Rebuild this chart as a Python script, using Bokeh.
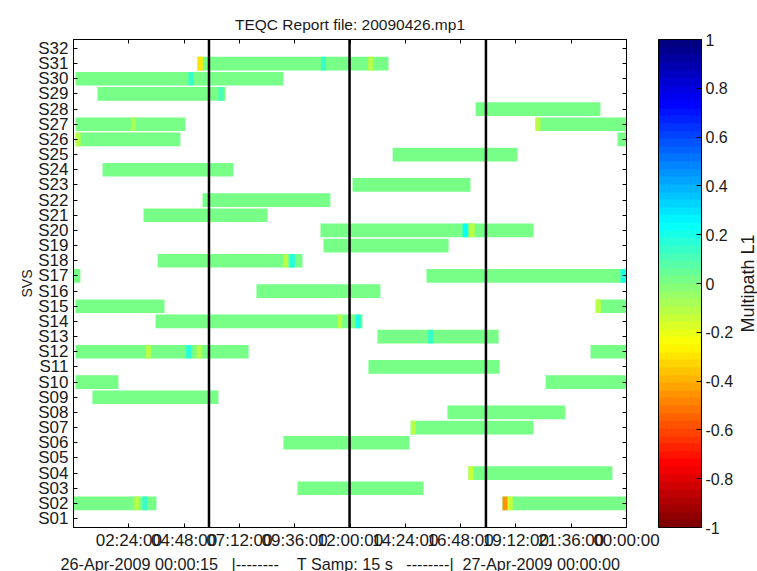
from bokeh.plotting import figure
from bokeh.layouts import row
from bokeh.models import (LinearColorMapper, ColorBar, FixedTicker, LinearAxis, Title,
                          Span, PrintfTickFormatter, Range1d, ColumnDataSource)
from bokeh.embed import file_html
from bokeh.resources import INLINE

# ---------------- data ----------------
sv_labels = ["S%02d" % i for i in range(1, 33)]
sv_ticks = list(range(1, 33))

x_tick_hours = [2.4, 4.8, 7.2, 9.6, 12.0, 14.4, 16.8, 19.2, 21.6, 24.0]
x_tick_labels = ["02:24:00", "04:48:00", "07:12:00", "09:36:00", "12:00:00",
                 "14:24:00", "16:48:00", "19:12:00", "21:36:00", "00:00:00"]

cb_ticks = [-1, -0.8, -0.6, -0.4, -0.2, 0, 0.2, 0.4, 0.6, 0.8, 1]

title_text = "TEQC Report file: 20090426.mp1"
y_title = "SVS"
cb_title = "Multipath L1"
NB = "\u00a0"
bottom_text = ("26-Apr-2009 00:00:15" + NB * 3 + "|--------" + NB * 4 + "T Samp: 15 s"
               + NB * 3 + "--------|" + NB * 2 + "27-Apr-2009 00:00:00")

# satellite passes (hours since 26-Apr-2009 00:00:15)
pass_sv = [31, 30, 29, 28, 27, 27, 26, 26, 25, 24, 23, 22, 21, 20, 19, 18, 17, 17,
           16, 15, 15, 14, 13, 12, 12, 11, 10, 10, 9, 8, 7, 6, 4, 3, 2, 2]
pass_start = [5.38, 0.09, 1.04, 17.45, 0.09, 20.05, 0.09, 23.61, 13.85, 1.26, 12.11, 5.60,
              3.04, 10.72, 10.85, 3.65, 0.00, 15.32, 7.94, 0.09, 22.66, 3.56, 13.19, 0.09,
              22.44, 12.80, 0.09, 20.49, 0.82, 16.23, 14.63, 9.11, 17.14, 9.72, 0.00, 18.62]
pass_end = [13.67, 9.11, 6.60, 22.87, 4.86, 24.0, 4.64, 24.0, 19.27, 6.94, 17.23, 11.15,
            8.42, 19.97, 16.28, 9.94, 0.30, 24.0, 13.32, 3.95, 24.0, 12.54, 18.45, 7.60,
            24.0, 18.49, 1.95, 24.0, 6.29, 21.35, 19.97, 14.58, 23.39, 15.19, 3.60, 24.0]
pass_mp1 = [0.02, 0.03, 0.02, 0.01, 0.0, 0.02, 0.01, 0.03, 0.02, 0.01, 0.01, 0.02,
            0.01, 0.02, 0.02, 0.01, 0.03, 0.02, 0.0, 0.02, 0.01, 0.02, 0.01, 0.01,
            0.02, 0.01, 0.02, 0.0, 0.01, 0.0, 0.01, 0.01, 0.02, 0.01, 0.0, 0.02]

# short epochs with notably different multipath
acc_sv = [31, 31, 31, 30, 29, 20, 20, 2, 2, 2, 2, 12, 12, 12, 17, 14, 14, 18, 18,
          13, 4, 7, 27, 26, 27, 15]
acc_hour = [5.50, 10.85, 12.90, 5.10, 6.40, 17.00, 17.30, 18.73, 18.95, 2.75, 3.10,
            3.25, 5.00, 5.45, 23.85, 12.35, 11.55, 9.20, 9.50, 15.50, 17.25, 14.75,
            2.60, 0.20, 20.16, 22.78]
acc_mp1 = [-0.3, 0.15, -0.12, 0.15, 0.12, 0.22, -0.12, -0.45, -0.15, -0.12, 0.15,
           -0.12, 0.18, -0.1, 0.2, 0.2, -0.1, -0.1, 0.18, 0.15, -0.15, -0.12,
           -0.08, -0.1, -0.1, -0.1]

marker_hours = [5.88, 11.98, 17.90]

# ---------------- style ----------------
FONT = "Liberation Sans"
TXT = "#1a1a1a"
BAR_H = 0.9
CELL_W = 0.22


def clip01(v):
    return min(max(v, 0.0), 1.0)


def jet_hex(t):
    r = clip01(1.5 - abs(4 * t - 3))
    g = clip01(1.5 - abs(4 * t - 2))
    b = clip01(1.5 - abs(4 * t - 1))
    return "#%02x%02x%02x" % (round(r * 255), round(g * 255), round(b * 255))


palette = [jet_hex(1 - i / 63) for i in range(64)]
mapper = LinearColorMapper(palette=palette, low=-1, high=1)

p = figure(frame_width=553, frame_height=488,
           x_range=Range1d(0, 24), y_range=Range1d(0.41, 32.59),
           output_backend="svg", toolbar_location=None,
           min_border_left=73, min_border_right=108,
           min_border_top=39, min_border_bottom=44,
           x_axis_type=None, y_axis_type=None)
p.xgrid.visible = False
p.ygrid.visible = False
p.outline_line_color = "black"
p.outline_line_width = 1
p.background_fill_color = "white"
p.border_fill_color = "white"

p.title.text = title_text
p.title.align = "center"
p.title.text_font = FONT
p.title.text_font_size = "15.5px"
p.title.text_font_style = "normal"
p.title.text_color = TXT
p.title.standoff = 13

passes = ColumnDataSource(dict(
    x=[(s + e) / 2 for s, e in zip(pass_start, pass_end)],
    w=[e - s for s, e in zip(pass_start, pass_end)],
    y=pass_sv, mp1=pass_mp1))
p.rect(x="x", y="y", width="w", height=BAR_H, source=passes,
       fill_color={"field": "mp1", "transform": mapper}, line_color=None)

acc = ColumnDataSource(dict(x=acc_hour, y=acc_sv, mp1=acc_mp1))
p.rect(x="x", y="y", width=CELL_W, height=BAR_H, source=acc,
       fill_color={"field": "mp1", "transform": mapper}, line_color=None)

for h in marker_hours:
    p.add_layout(Span(location=h, dimension="height", line_color="black", line_width=2.5))


def style_axis(ax, ticks, overrides, show_labels):
    ax.ticker = FixedTicker(ticks=ticks)
    ax.major_label_overrides = overrides
    ax.major_tick_in = 4
    ax.major_tick_out = 0
    ax.minor_tick_line_color = None
    ax.axis_line_color = "black"
    ax.major_tick_line_color = "black"
    ax.major_label_text_font = FONT
    ax.major_label_text_color = TXT
    ax.major_label_text_font_size = "17px"
    if not show_labels:
        ax.major_label_text_font_size = "1px"
        ax.major_label_text_alpha = 0
        ax.major_label_standoff = 0


xb = LinearAxis()
style_axis(xb, x_tick_hours, dict(zip(x_tick_hours, x_tick_labels)), True)
xb.major_label_standoff = 3
p.add_layout(xb, "below")

yl = LinearAxis()
style_axis(yl, sv_ticks, dict(zip(sv_ticks, sv_labels)), True)
yl.major_label_standoff = 5
yl.axis_label = y_title
yl.axis_label_text_font = FONT
yl.axis_label_text_font_size = "14px"
yl.axis_label_text_font_style = "normal"
yl.axis_label_text_color = TXT
yl.axis_label_standoff = 0
p.add_layout(yl, "left")

xt = LinearAxis()
style_axis(xt, x_tick_hours, {h: "" for h in x_tick_hours}, False)
p.add_layout(xt, "above")

yr = LinearAxis()
style_axis(yr, sv_ticks, {v: "" for v in sv_ticks}, False)
p.add_layout(yr, "right")

# colour bar
cb = ColorBar(color_mapper=mapper, ticker=FixedTicker(ticks=cb_ticks),
              formatter=PrintfTickFormatter(format="%g"),
              width=43, height=488, location=(585, 0), padding=0, margin=0,
              label_standoff=4, major_label_text_font=FONT,
              major_label_text_font_size="16px", major_label_text_color=TXT,
              major_tick_line_color="black", major_tick_in=5, major_tick_out=0,
              minor_tick_line_color=None, bar_line_color="black",
              border_line_color=None, background_fill_alpha=0)
p.add_layout(cb, "center")

bt = Title(text=bottom_text, align="left", offset=-13, text_font=FONT,
           text_font_size="16.2px", text_font_style="normal", text_color=TXT,
           standoff=0)
p.add_layout(bt, "below")

# narrow strip carrying the colour-bar caption (reads bottom to top)
q = figure(frame_width=1, frame_height=488, x_range=Range1d(0, 1),
           y_range=Range1d(-1, 1), output_backend="svg", toolbar_location=None,
           min_border_left=22, min_border_right=0, min_border_top=39,
           min_border_bottom=44, x_axis_type=None, y_axis_type=None)
q.xgrid.visible = False
q.ygrid.visible = False
q.outline_line_color = None
q.border_fill_color = "white"
q.background_fill_color = "white"
cap = LinearAxis(ticker=FixedTicker(ticks=[]))
cap.axis_line_color = None
cap.major_tick_line_color = None
cap.minor_tick_line_color = None
cap.axis_label = cb_title
cap.axis_label_text_font = FONT
cap.axis_label_text_font_size = "18px"
cap.axis_label_text_font_style = "normal"
cap.axis_label_text_color = TXT
cap.axis_label_standoff = 0
q.add_layout(cap, "left")

layout = row(p, q)
open("out.html", "w").write(file_html(layout, INLINE))
